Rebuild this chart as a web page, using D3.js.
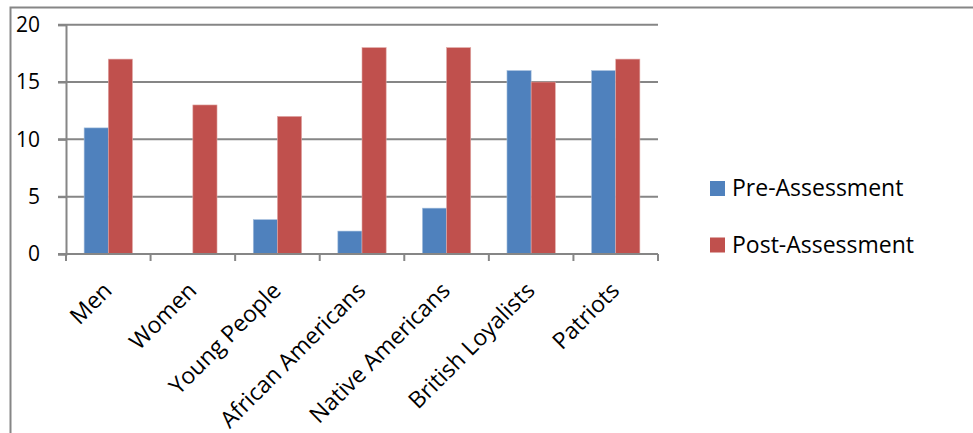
<!DOCTYPE html>
<html>
<head>
<meta charset="utf-8">
<script src="https://cdn.jsdelivr.net/npm/d3@7"></script>
<style>
    body { margin: 0; background: #fff; }
    svg { display: block; font-family: "Open Sans", "Noto Sans", sans-serif; }
</style>
</head>
<body>
<div class="container"></div>
<script>
const categories = ['Men', 'Women', 'Young People', 'African Americans', 'Native Americans', 'British Loyalists', 'Patriots'];
const preValues = [11, 0, 3, 2, 4, 16, 16];
const postValues = [17, 13, 12, 18, 18, 15, 17];
const seriesNames = ['Pre-Assessment', 'Post-Assessment'];
const yTicks = [0, 5, 10, 15, 20];

const width = 973;
const height = 433;
const plot = { left: 66, right: 658, top: 24.7, bottom: 254 };
const colors = ['#4f81bd', '#c0504d'];
const edgeColors = ['#a7c0de', '#e0a8a6'];
const gridColor = '#868686';
const fontSize = 23;

const svg = d3.select('.container')
    .append('svg')
    .attr('width', width)
    .attr('height', height);

// outer chart frame (runs off the right and bottom edges)
svg.append('rect')
    .attr('x', 10.5)
    .attr('y', 7.5)
    .attr('width', width + 20)
    .attr('height', height + 20)
    .attr('fill', 'none')
    .attr('stroke', gridColor)
    .attr('stroke-width', 2);

const x = d3.scaleBand().domain(categories).range([plot.left, plot.right]);
// gap width 150%: two bars + 1.5 bar = band
const barW = x.bandwidth() / 3.5;
const y = d3.scaleLinear().domain([0, 20]).range([plot.bottom, plot.top]);

// horizontal gridlines
svg.append('g')
    .selectAll('line')
    .data(yTicks.filter(d => d > 0))
    .enter()
    .append('line')
    .attr('x1', plot.left - 8)
    .attr('x2', plot.right)
    .attr('y1', d => y(d))
    .attr('y2', d => y(d))
    .attr('stroke', gridColor)
    .attr('stroke-width', 2);

// y axis
const yAxis = svg.append('g')
    .attr('transform', `translate(${plot.left},0)`)
    .call(d3.axisLeft(y).tickValues(yTicks).tickSize(8).tickPadding(18));
yAxis.select('.domain').attr('stroke', gridColor).attr('stroke-width', 2);
yAxis.selectAll('.tick line').attr('stroke', gridColor).attr('stroke-width', 2);
yAxis.selectAll('.tick text')
    .attr('fill', '#000')
    .style('font-size', '21px')
    .style('font-family', '"Open Sans", sans-serif');

// bars
const series = [preValues, postValues];
series.forEach((vals, s) => {
    svg.append('g')
        .selectAll('rect')
        .data(categories)
        .enter()
        .append('rect')
        .attr('x', (d, i) => x(d) + barW * 0.75 + s * barW)
        .attr('y', (d, i) => y(vals[i]))
        .attr('width', barW)
        .attr('height', (d, i) => y(0) - y(vals[i]))
        .attr('fill', colors[s])
        .attr('stroke', edgeColors[s])
        .attr('stroke-width', 0.6);
});

// x axis
const xAxisG = svg.append('g').attr('transform', `translate(0,${plot.bottom})`);
xAxisG.append('line')
    .attr('x1', plot.left - 8)
    .attr('x2', plot.right)
    .attr('stroke', gridColor)
    .attr('stroke-width', 2);
xAxisG.selectAll('.cat-tick')
    .data(d3.range(categories.length + 1))
    .enter()
    .append('line')
    .attr('class', 'cat-tick')
    .attr('x1', i => plot.left + i * x.step())
    .attr('x2', i => plot.left + i * x.step())
    .attr('y1', 0)
    .attr('y2', 7)
    .attr('stroke', gridColor)
    .attr('stroke-width', 2);

xAxisG.selectAll('.cat-label')
    .data(categories)
    .enter()
    .append('text')
    .attr('class', 'cat-label')
    .attr('text-anchor', 'end')
    .attr('transform', d => `translate(${x(d) + x.bandwidth() / 2 + 5},${38}) rotate(-45)`)
    .style('font-size', `${fontSize}px`)
    .text(d => d);

// legend
const legend = svg.append('g').attr('transform', 'translate(710,181)');
seriesNames.forEach((name, i) => {
    const row = legend.append('g').attr('transform', `translate(0,${i * 56.5})`);
    row.append('rect')
        .attr('width', 15)
        .attr('height', 15)
        .attr('fill', colors[i]);
    row.append('text')
        .attr('x', 22)
        .attr('y', 15)
        .style('font-size', `${fontSize}px`)
        .text(name);
});
</script>
</body>
</html>
